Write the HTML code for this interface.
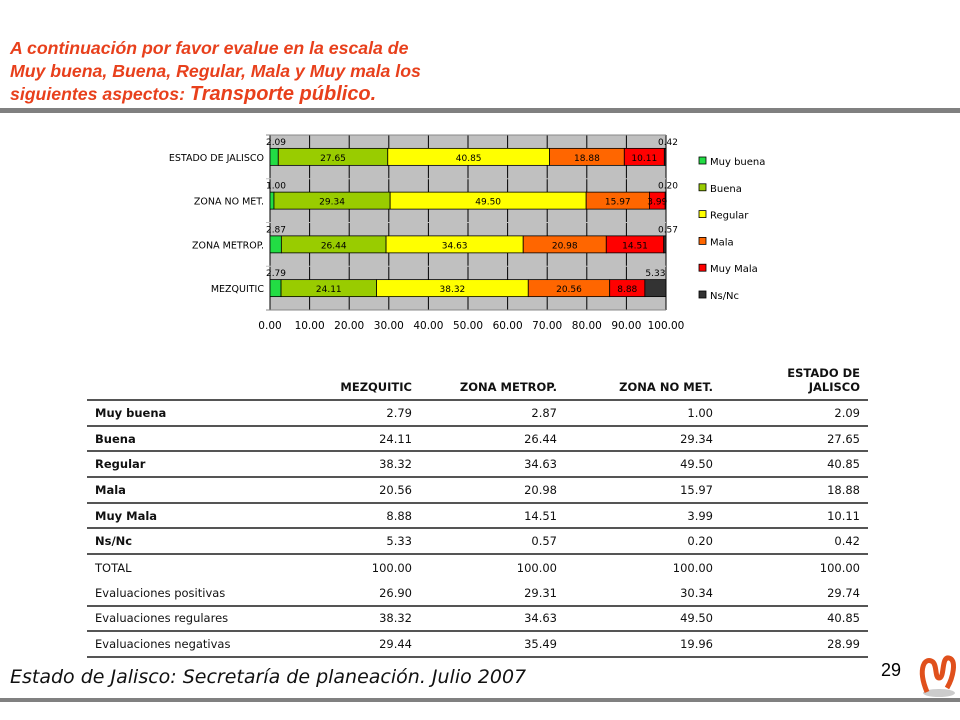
<!DOCTYPE html>
<html><head><meta charset="utf-8"><style>
body{margin:0;width:960px;height:720px;background:#fff;position:relative;overflow:hidden;font-family:"DejaVu Sans","Liberation Sans",sans-serif}
.title{position:absolute;left:10px;top:37px;color:#e8401c;font:italic bold 17.7px/23px "Liberation Sans",sans-serif}
.title b{font-size:20px}
table{position:absolute;left:87px;top:362px;width:781px;border-collapse:collapse;table-layout:fixed;font-size:11.5px;color:#111}
td{height:23.7px;line-height:14px;padding:0 8px;text-align:right;white-space:nowrap}
td:first-child{text-align:left}
th{font-size:11.5px;line-height:14px;font-weight:bold;text-align:right;padding:0 8px 5px;vertical-align:bottom;height:32px;border-bottom:2px solid #555}
tr.l td{border-bottom:2px solid #555}
tr.n td{height:25.7px}
tr.b td:first-child{font-weight:bold}
</style></head><body>
<div class="title">A continuación por favor evalue en la escala de<br>Muy buena, Buena, Regular, Mala y Muy mala los<br>siguientes aspectos: <b>Transporte público.</b></div>
<div style="position:absolute;left:0;top:108px;width:960px;height:5px;background:#808080"></div>
<svg id="chart" style="position:absolute;left:0;top:0" width="960" height="350"></svg>
<table>
<colgroup><col style="width:180px"><col style="width:153px"><col style="width:145px"><col style="width:156px"><col style="width:147px"></colgroup>
<tr><th></th><th>MEZQUITIC</th><th>ZONA METROP.</th><th>ZONA NO MET.</th><th>ESTADO DE<br>JALISCO</th></tr>
<tr class="l b"><td>Muy buena</td><td>2.79</td><td>2.87</td><td>1.00</td><td>2.09</td></tr>
<tr class="l b"><td>Buena</td><td>24.11</td><td>26.44</td><td>29.34</td><td>27.65</td></tr>
<tr class="l b"><td>Regular</td><td>38.32</td><td>34.63</td><td>49.50</td><td>40.85</td></tr>
<tr class="l b"><td>Mala</td><td>20.56</td><td>20.98</td><td>15.97</td><td>18.88</td></tr>
<tr class="l b"><td>Muy Mala</td><td>8.88</td><td>14.51</td><td>3.99</td><td>10.11</td></tr>
<tr class="l b"><td>Ns/Nc</td><td>5.33</td><td>0.57</td><td>0.20</td><td>0.42</td></tr>
<tr class="n"><td>TOTAL</td><td>100.00</td><td>100.00</td><td>100.00</td><td>100.00</td></tr>
<tr class="l"><td>Evaluaciones positivas</td><td>26.90</td><td>29.31</td><td>30.34</td><td>29.74</td></tr>
<tr class="l"><td>Evaluaciones regulares</td><td>38.32</td><td>34.63</td><td>49.50</td><td>40.85</td></tr>
<tr class="l"><td>Evaluaciones negativas</td><td>29.44</td><td>35.49</td><td>19.96</td><td>28.99</td></tr>
</table>
<div style="position:absolute;left:10px;top:666px;font:italic 19px 'DejaVu Sans',sans-serif;color:#111">Estado de Jalisco: Secretaría de planeación. Julio 2007</div>
<div style="position:absolute;left:881px;top:660px;font:18px 'Liberation Sans',sans-serif">29</div>
<svg style="position:absolute;left:915px;top:648px" width="45" height="55"><ellipse cx="24" cy="45" rx="16" ry="4" fill="#ccc"/><path d="M12 44 C2 20 10 8 18 14 C22 18 20 30 24 30 C30 30 26 8 34 10 C42 12 38 30 32 40" stroke="#e0501c" stroke-width="5" fill="none"/></svg>
<div style="position:absolute;left:0;top:698px;width:960px;height:4px;background:#808080"></div>
<script>
const categories=["ESTADO DE JALISCO","ZONA NO MET.","ZONA METROP.","MEZQUITIC"];
const series=["Muy buena","Buena","Regular","Mala","Muy Mala","Ns/Nc"];
const muyBuena=[2.09,1.00,2.87,2.79];
const buena=[27.65,29.34,26.44,24.11];
const regular=[40.85,49.50,34.63,38.32];
const mala=[18.88,15.97,20.98,20.56];
const muyMala=[10.11,3.99,14.51,8.88];
const nsnc=[0.42,0.20,0.57,5.33];
const ticks=[0,10,20,30,40,50,60,70,80,90,100];
const colors=["#22dd44","#99cc00","#ffff00","#ff6600","#ff0000","#333333"];
const data=[muyBuena,buena,regular,mala,muyMala,nsnc];
const NS="http://www.w3.org/2000/svg",svg=document.getElementById("chart");
const X0=270,X1=666,Y0=135,Y1=310;
const x=v=>X0+(v/100)*(X1-X0);
const band=(Y1-Y0)/categories.length;
const yc=i=>Y0+band*(i+0.5);
function mk(t,a,p){const e=document.createElementNS(NS,t);for(const k in a)e.setAttribute(k,a[k]);(p||svg).appendChild(e);return e;}
const bg=mk("rect",{x:X0,y:Y0,width:X1-X0,height:Y1-Y0,fill:"#c0c0c0"});


ticks.forEach(t=>{
 const g=mk("line",{x1:x(t),x2:x(t),y1:Y0,y2:Y1,stroke:"#000","stroke-width":1});
 
 
 const tl=mk("text",{x:x(t),y:Y1+19,"text-anchor":"middle","font-size":"10.5","font-family":"DejaVu Sans"});
 tl.textContent=t.toFixed(2);
 
 
});
for(let i=0;i<=categories.length;i++){
 const h=mk("line",{x1:X0-4,x2:X1,y1:Y0+band*i,y2:Y0+band*i,stroke:i==0||i==categories.length?"#888":"#c0c0c0"});
 
 
}
categories.forEach((c,i)=>{
 const cy=yc(i);
 const lab=mk("text",{x:X0-6,y:cy+4,"text-anchor":"end","font-size":"9.5","font-family":"DejaVu Sans"});
 lab.textContent=c;
 
 
 let acc=0;
 data.forEach((s,j)=>{
  const v=s[i];
  const r=mk("rect",{x:x(acc),y:cy-8.5,width:x(acc+v)-x(acc),height:17,fill:colors[j],stroke:"#000","stroke-width":0.8});
  
  
  const mid=x(acc+v/2);
  const tx=mk("text",{"font-size":"9","font-family":"DejaVu Sans","text-anchor":"middle"});
  tx.textContent=v.toFixed(2);
  if(v<3.5){tx.setAttribute("x",j==0?x(acc)+6:x(acc+v)+2);tx.setAttribute("y",cy-12);}
  else{tx.setAttribute("x",mid);tx.setAttribute("y",cy+4);}
  if(j==5&&v>=3.5){tx.setAttribute("y",cy-12);}
  
  
  acc+=v;
 });
});
series.forEach((s,j)=>{
 const ly=161+j*26.8;
 const sq=mk("rect",{x:699,y:ly-4,width:7,height:7,fill:colors[j],stroke:"#000","stroke-width":0.8});
 
 
 const t=mk("text",{x:710,y:ly+4,"font-size":"10","font-family":"DejaVu Sans"});
 t.textContent=s;
 
 
});
</script>
</body></html>
